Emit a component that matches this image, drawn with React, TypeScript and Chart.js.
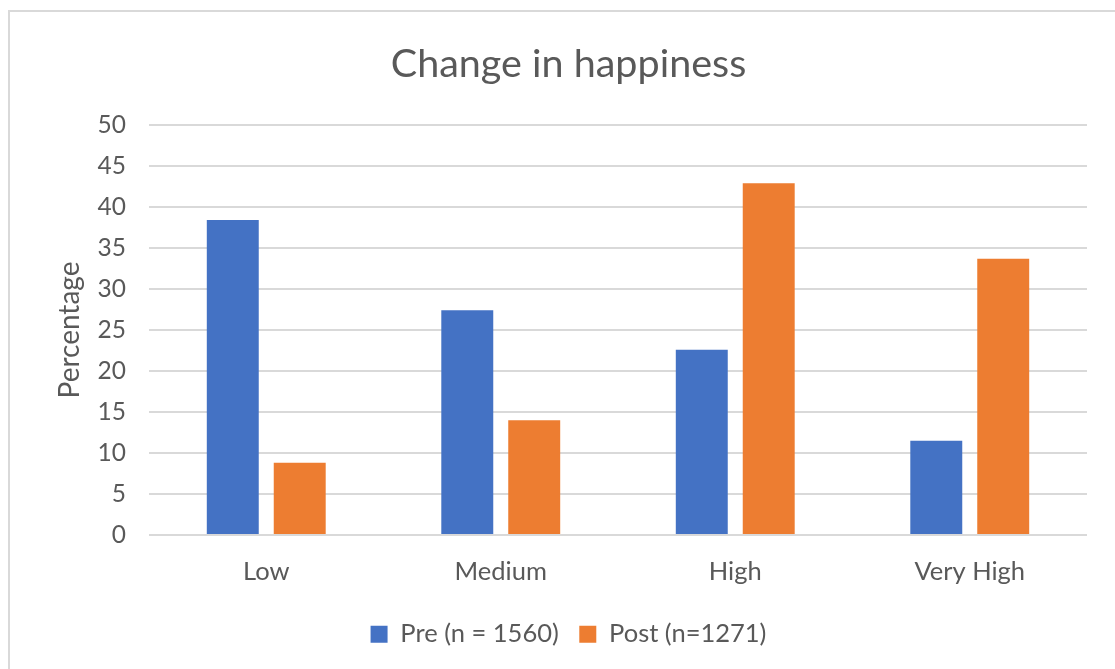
import React, { useEffect, useRef } from "react";
import { Chart, registerables } from "chart.js";

Chart.register(...registerables);

const categories = ["Low", "Medium", "High", "Very High"];
const preValues = [38.4, 27.4, 22.6, 11.5];
const postValues = [8.8, 14.0, 42.9, 33.7];
const seriesLabels = ["Pre (n = 1560)", "Post (n=1271)"];
const chartTitle = "Change in happiness";
const yAxisTitle = "Percentage";

const FONT = "Lato, 'Noto Sans', sans-serif";
const TEXT = "#595959";

export default function App() {
  const ref = useRef<HTMLCanvasElement | null>(null);

  useEffect(() => {
    if (!ref.current) return;
    const chart = new Chart(ref.current, {
      type: "bar",
      data: {
        labels: categories,
        datasets: [
          {
            label: seriesLabels[0],
            data: preValues,
            backgroundColor: "#4472C4",
            borderWidth: 0,
          },
          {
            label: seriesLabels[1],
            data: postValues,
            backgroundColor: "#ED7D31",
            borderWidth: 0,
          },
        ],
      },
      options: {
        responsive: false,
        animation: false,
        devicePixelRatio: 1,
        layout: { padding: { left: 50, right: 28, top: 11, bottom: 12 } },
        datasets: {
          bar: { categoryPercentage: 0.571, barPercentage: 0.776 },
        },
        plugins: {
          title: {
            display: true,
            text: chartTitle,
            color: TEXT,
            font: { family: FONT, size: 39.5, weight: "normal" },
            padding: { top: 29.3, bottom: 37.3 },
          },
          legend: {
            position: "bottom",
            labels: {
              color: TEXT,
              font: { family: FONT, size: 25.5 },
              boxWidth: 17,
              boxHeight: 17,
              padding: 20.5,
            },
          },
          tooltip: { enabled: false },
        },
        scales: {
          x: {
            grid: { display: false, drawTicks: false },
            border: { display: false },
            ticks: {
              color: TEXT,
              font: { family: FONT, size: 25.5 },
              padding: 21,
            },
            afterFit: (scale: any) => {
              scale.height = 66;
            },
          },
          y: {
            min: 0,
            max: 50,
            ticks: {
              stepSize: 5,
              color: TEXT,
              font: { family: FONT, size: 24.5 },
              padding: 23,
            },
            grid: { color: "#d9d9d9", lineWidth: 2, drawTicks: false },
            border: { display: false },
            title: {
              display: true,
              text: yAxisTitle,
              color: TEXT,
              font: { family: FONT, size: 28 },
              padding: { top: 3, bottom: 3 },
            },
            afterFit: (scale: any) => {
              scale.width = 99;
            },
          },
        },
      },
    });
    return () => chart.destroy();
  }, []);

  return (
    <div
      style={{
        position: "fixed",
        left: 0,
        top: 0,
        width: 1115,
        height: 669,
        overflow: "hidden",
        background: "#ffffff",
      }}
    >
      <div
        style={{
          position: "absolute",
          left: 8,
          top: 10,
          width: 1120,
          height: 680,
          border: "2px solid #d9d9d9",
          boxSizing: "border-box",
        }}
      />
      <canvas
        ref={ref}
        width={1115}
        height={669}
        style={{ position: "absolute", left: 0, top: 0, width: 1115, height: 669 }}
      />
    </div>
  );
}
